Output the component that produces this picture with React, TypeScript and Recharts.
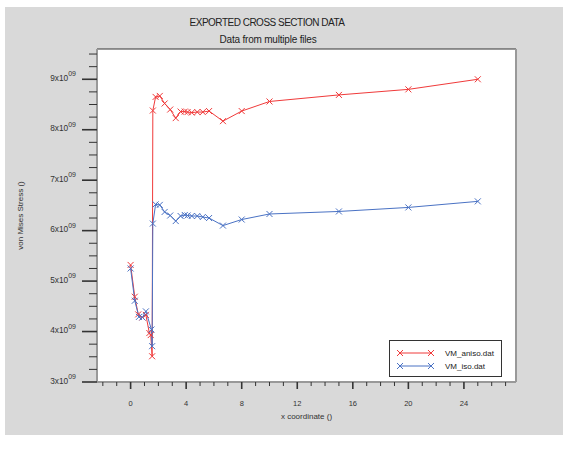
import React from 'react';
import { LineChart, Line, XAxis, YAxis, CartesianGrid, ReferenceLine, Label } from 'recharts';

// values in units of 1e9 (von Mises stress)
const anisoX = [0, 0.3, 0.55, 0.85, 1.1, 1.35, 1.45, 1.55, 1.6, 1.8, 2.1, 2.45, 2.85, 3.25, 3.6, 3.9, 4.1, 4.4, 4.8, 5.2, 5.65, 6.65, 8, 10, 15, 20, 25];
const anisoY = [5.32, 4.69, 4.34, 4.28, 4.33, 3.97, 3.93, 3.51, 8.38, 8.65, 8.67, 8.52, 8.4, 8.23, 8.36, 8.36, 8.35, 8.34, 8.35, 8.35, 8.37, 8.17, 8.37, 8.56, 8.69, 8.8, 9.0];

const isoX = [0, 0.3, 0.6, 0.85, 1.1, 1.5, 1.55, 1.6, 1.8, 2.1, 2.45, 2.85, 3.25, 3.6, 3.9, 4.1, 4.4, 4.8, 5.2, 5.65, 6.65, 8, 10, 15, 20, 25];
const isoY = [5.25, 4.61, 4.29, 4.28, 4.4, 4.04, 3.71, 6.14, 6.52, 6.51, 6.37, 6.3, 6.19, 6.29, 6.31, 6.3, 6.29, 6.29, 6.27, 6.25, 6.1, 6.22, 6.33, 6.38, 6.46, 6.58];

const xTicks = [-2, -1, 0, 1, 2, 3, 4, 5, 6, 7, 8, 9, 10, 11, 12, 13, 14, 15, 16, 17, 18, 19, 20, 21, 22, 23, 24, 25, 26, 27];
const xLabels = [0, 4, 8, 12, 16, 20, 24];
const yTicks = [3, 3.25, 3.5, 3.75, 4, 4.25, 4.5, 4.75, 5, 5.25, 5.5, 5.75, 6, 6.25, 6.5, 6.75, 7, 7.25, 7.5, 7.75, 8, 8.25, 8.5, 8.75, 9, 9.25, 9.5];
const yLabels = [3, 4, 5, 6, 7, 8, 9];

const anisoData = anisoX.map((x, i) => ({ x, y: anisoY[i] }));
const isoData = isoX.map((x, i) => ({ x, y: isoY[i] }));

const RED = '#f03a3a';
const BLUE = '#4a72c4';
const FONT = '"Liberation Sans", Arial, sans-serif';

const cross = (cx: number, cy: number, r = 3) =>
  `M${cx - r},${cy - r}L${cx + r},${cy + r}M${cx - r},${cy + r}L${cx + r},${cy - r}`;

const markDot = (color: string) => (p: any) => (
  <path key={p.index} d={cross(p.cx, p.cy)} stroke={color} strokeWidth={1} fill="none" />
);

const XTick = ({ x, y, payload }: any) => {
  const major = xLabels.includes(payload.value);
  return (
    <g>
      <line x1={x} x2={x} y1={y} y2={y + (major ? 7 : 4)} stroke="#333" strokeWidth={major ? 1.6 : 1} />
      {major && (
        <text x={x} y={y + 24} textAnchor="middle" fontSize={7.5} fill="#333" fontFamily={FONT}>
          {payload.value}
        </text>
      )}
    </g>
  );
};

const YTick = ({ x, y, payload }: any) => {
  const major = yLabels.includes(payload.value);
  return (
    <g>
      <line x1={x - (major ? 15 : 8)} x2={x} y1={y} y2={y} stroke="#333" strokeWidth={major ? 1.6 : 1} />
      {major && (
        <text x={x - 21} y={y + 1.5} textAnchor="end" fontSize={8.3} fill="#333" fontFamily={FONT}>
          {payload.value}x10<tspan dy={-4.5} fontSize={7}>09</tspan>
        </text>
      )}
    </g>
  );
};

export default function App() {
  return (
    <div style={{ position: 'relative', width: 568, height: 452, background: '#fff', fontFamily: FONT }}>
      <style>{'body{margin:0}'}</style>
      <div style={{ position: 'absolute', left: 5, top: 7, width: 558, height: 428, background: '#d9d9d9' }} />
      <div style={{ position: 'absolute', left: 0, top: 0 }}>
        <LineChart width={568} height={452} margin={{ top: 49, right: 52, bottom: 30, left: 17 }}>
          <CartesianGrid fill="#fff" stroke="none" horizontal={false} vertical={false} />
          <XAxis
            type="number"
            dataKey="x"
            domain={[-2.42, 27.75]}
            allowDataOverflow
            ticks={xTicks}
            interval={0}
            tick={<XTick />}
            tickLine={false}
            tickSize={0}
            tickMargin={0}
            height={40}
            axisLine={{ stroke: '#999', strokeWidth: 2 }}
          >
            <Label value="x coordinate ()" position="insideBottom" offset={3} fontSize={8} fill="#333" fontFamily={FONT} />
          </XAxis>
          <YAxis
            type="number"
            domain={[3, 9.6]}
            allowDataOverflow
            ticks={yTicks}
            interval={0}
            tick={<YTick />}
            tickLine={false}
            tickSize={0}
            tickMargin={0}
            width={80}
            axisLine={{ stroke: '#999', strokeWidth: 2 }}
          >
            <Label
              value="von Mises Stress ()"
              angle={-90}
              position="insideLeft"
              offset={3}
              fontSize={8}
              fill="#333"
              fontFamily={FONT}
              style={{ textAnchor: 'middle' }}
            />
          </YAxis>
          <ReferenceLine y={9.6} stroke="#333" strokeWidth={1} />
          <ReferenceLine x={27.75} stroke="#999" strokeWidth={2} />
          <Line
            data={anisoData}
            dataKey="y"
            stroke={RED}
            strokeWidth={1}
            dot={markDot(RED)}
            activeDot={false}
            isAnimationActive={false}
          />
          <Line
            data={isoData}
            dataKey="y"
            stroke={BLUE}
            strokeWidth={1}
            dot={markDot(BLUE)}
            activeDot={false}
            isAnimationActive={false}
          />
        </LineChart>
      </div>
      <svg width={568} height={452} style={{ position: 'absolute', left: 0, top: 0, pointerEvents: 'none' }}>
        <text x={267} y={26} textAnchor="middle" fontSize={10} letterSpacing={-0.5} fill="#222">
          EXPORTED CROSS SECTION DATA
        </text>
        <text x={268} y={43} textAnchor="middle" fontSize={10} letterSpacing={-0.2} fill="#222">
          Data from multiple files
        </text>
        <rect x={389.5} y={340.5} width={112} height={36} fill="#fff" stroke="#333" strokeWidth={1} />
        <line x1={400} x2={431} y1={353} y2={353} stroke={RED} />
        <path d={cross(400, 353)} stroke={RED} fill="none" />
        <path d={cross(431, 353)} stroke={RED} fill="none" />
        <text x={445} y={356} fontSize={8} fill="#222">VM_aniso.dat</text>
        <line x1={400} x2={431} y1={366} y2={366} stroke={BLUE} />
        <path d={cross(400, 366)} stroke={BLUE} fill="none" />
        <path d={cross(431, 366)} stroke={BLUE} fill="none" />
        <text x={445} y={369} fontSize={8} fill="#222">VM_iso.dat</text>
      </svg>
    </div>
  );
}
